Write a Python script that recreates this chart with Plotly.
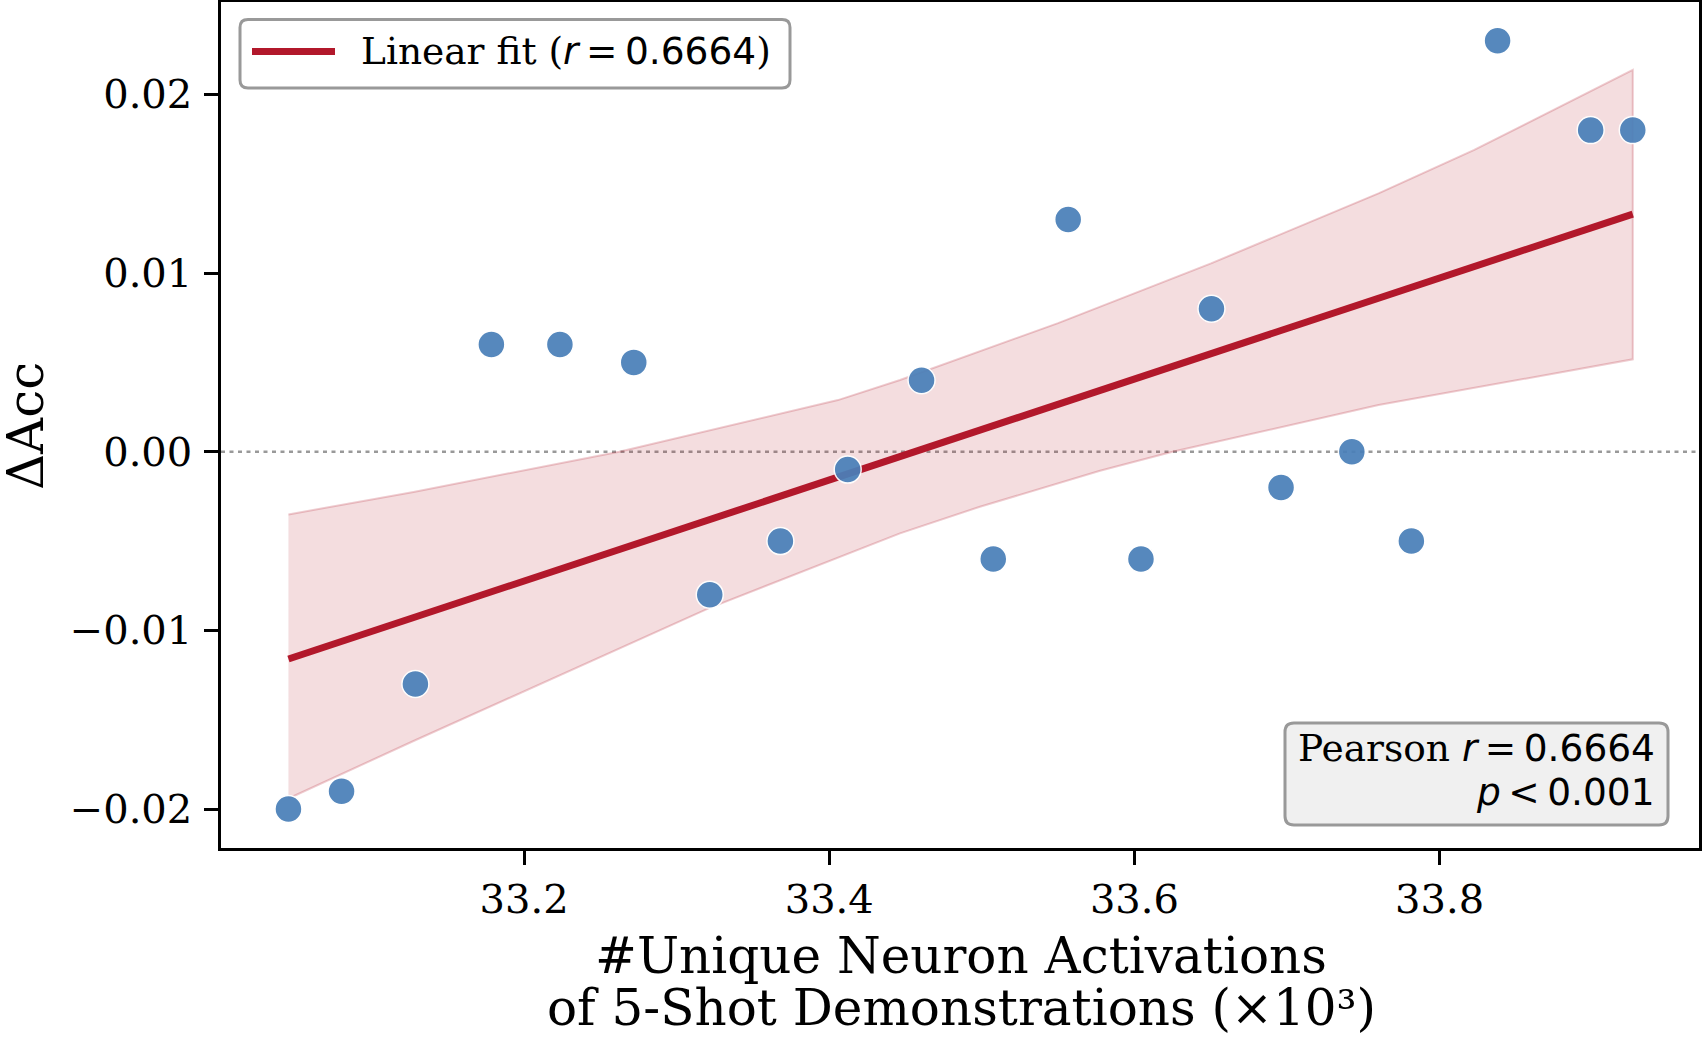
import plotly.graph_objects as go

# ---------------- data ----------------
x_vals = [33.0456, 33.0804, 33.1288, 33.1786, 33.2235, 33.2719, 33.3217, 33.3680,
          33.4121, 33.4605, 33.5075, 33.5566, 33.6043, 33.6505, 33.6961, 33.7425,
          33.7815, 33.8380, 33.8990, 33.9266]
y_vals = [-0.020, -0.019, -0.013, 0.006, 0.006, 0.005, -0.008, -0.005,
          -0.001, 0.004, -0.006, 0.013, -0.006, 0.008, -0.002, 0.000,
          -0.005, 0.023, 0.018, 0.018]

fit_x = [33.0456, 33.9266]
fit_y = [-0.0116, 0.0133]

ci_upper_x = [33.0456, 33.1276, 33.2623, 33.4057, 33.4464, 33.5500, 33.6502, 33.7600, 33.8227, 33.9266]
ci_upper_y = [-0.00351, -0.00225, 0.00000, 0.00289, 0.00401, 0.00720, 0.01054, 0.01446, 0.01689, 0.02137]
ci_lower_x = [33.0456, 33.1276, 33.3209, 33.4464, 33.4988, 33.5775, 33.6250, 33.7600, 33.9266]
ci_lower_y = [-0.01941, -0.01619, -0.00877, -0.00457, -0.00308, -0.00107, 0.00000, 0.00261, 0.00517]

x_ticks = [33.2, 33.4, 33.6, 33.8]
x_tick_labels = ["33.2", "33.4", "33.6", "33.8"]
y_ticks = [-0.02, -0.01, 0.0, 0.01, 0.02]
y_tick_labels = ["\u22120.02", "\u22120.01", "0.00", "0.01", "0.02"]

pearson_r = "0.6664"
p_value_text = "0.001"

x_title_lines = ["#Unique Neuron Activations", "of 5-Shot Demonstrations (\u00d710\u00b3)"]
y_title = "\u0394Acc"

# ---------------- styling ----------------
SERIF = "DejaVu Serif"
SANS = "DejaVu Sans"
RED = "#b2182b"
BLUE = "#4a80b9"
TS = "\u2009"  # thin space (mathtext-like spacing around "=")

W, H = 1702, 1037
ML, MR, MT, MB = 221, 3, 2, 189
PX0, PX1, PY0, PY1 = ML, W - MR, MT, H - MB


def pxx(X):
    return (X - PX0) / (PX1 - PX0)


def pxy(Y):
    return (PY1 - Y) / (PY1 - PY0)


def rounded_rect(x0, y0, x1, y1, r):
    pts = [
        ("M", [(x0 + r, y0)]),
        ("L", [(x1 - r, y0)]),
        ("Q", [(x1, y0), (x1, y0 + r)]),
        ("L", [(x1, y1 - r)]),
        ("Q", [(x1, y1), (x1 - r, y1)]),
        ("L", [(x0 + r, y1)]),
        ("Q", [(x0, y1), (x0, y1 - r)]),
        ("L", [(x0, y0 + r)]),
        ("Q", [(x0, y0), (x0 + r, y0)]),
    ]
    s = ""
    for cmd, ps in pts:
        s += cmd + " " + " ".join(f"{pxx(a):.5f},{pxy(b):.5f}" for a, b in ps) + " "
    return s + "Z"


fig = go.Figure()

# confidence band
fig.add_trace(go.Scatter(
    x=ci_upper_x + ci_lower_x[::-1],
    y=ci_upper_y + ci_lower_y[::-1],
    fill="toself",
    fillcolor="rgba(178,24,43,0.15)",
    line=dict(color="rgba(178,24,43,0.22)", width=2),
    mode="lines", hoverinfo="skip", showlegend=False,
))

# fit line
fig.add_trace(go.Scatter(
    x=fit_x, y=fit_y, mode="lines",
    line=dict(color=RED, width=7),
    name="Linear fit", showlegend=False,
))

# points
fig.add_trace(go.Scatter(
    x=x_vals, y=y_vals, mode="markers",
    marker=dict(size=27, color=BLUE, opacity=0.93,
                line=dict(color="white", width=1.5)),
    showlegend=False,
))

# zero reference line
fig.add_hline(y=0, line=dict(color="#999999", width=2.5, dash="4px,4.5px"), layer="below")

axis_common = dict(
    showgrid=False, zeroline=False,
    showline=True, linecolor="black", linewidth=2.5, mirror=True,
    ticks="outside", ticklen=14, tickwidth=2.5, tickcolor="black",
    tickfont=dict(family=SERIF, size=40, color="black"),
)

fig.update_layout(
    width=W, height=H,
    margin=dict(l=ML, r=MR, t=MT, b=MB, autoexpand=False),
    plot_bgcolor="white", paper_bgcolor="white",
    showlegend=False,
    xaxis=dict(
        range=[33.0014, 33.970],
        tickvals=x_ticks, ticktext=x_tick_labels,
        ticklabelstandoff=0,
        **axis_common,
    ),
    yaxis=dict(
        range=[-0.02218, 0.02517],
        tickvals=y_ticks, ticktext=y_tick_labels,
        ticklabelstandoff=4,
        **axis_common,
    ),
)

# axis titles (placed as annotations for exact line spacing)
fig.add_annotation(
    xref="paper", yref="paper", x=pxx(961.5), y=pxy(956), xanchor="center", yanchor="middle",
    text=x_title_lines[0], showarrow=False, font=dict(family=SERIF, size=50, color="black"),
)
fig.add_annotation(
    xref="paper", yref="paper", x=pxx(961.5), y=pxy(1008), xanchor="center", yanchor="middle",
    text=x_title_lines[1], showarrow=False, font=dict(family=SERIF, size=50, color="black"),
)
fig.add_annotation(
    xref="paper", yref="paper", x=pxx(26), y=pxy(426), xanchor="center", yanchor="middle",
    text=y_title, textangle=-90, showarrow=False,
    font=dict(family=SERIF, size=50, color="black"),
)

# manual legend (rounded box, line swatch, label)
fig.add_shape(type="path", xref="paper", yref="paper",
              path=rounded_rect(240, 19.5, 790, 88, 8),
              fillcolor="white", line=dict(color="#999999", width=3), layer="above")
fig.add_shape(type="line", xref="paper", yref="paper",
              x0=pxx(252), x1=pxx(335), y0=pxy(51.5), y1=pxy(51.5),
              line=dict(color=RED, width=7), layer="above")
fig.add_annotation(
    xref="paper", yref="paper", x=pxx(359), y=pxy(51), xanchor="left", yanchor="middle",
    text=f"Linear fit (<span style='font-family:{SANS}'><i>r</i>{TS}={TS}{pearson_r}</span>)",
    showarrow=False, font=dict(family=SERIF, size=37.5, color="black"),
)

# stats box
fig.add_shape(type="path", xref="paper", yref="paper",
              path=rounded_rect(1285, 723, 1668, 825, 9),
              fillcolor="#f0f0f0", line=dict(color="#999999", width=3), layer="above")
fig.add_annotation(
    xref="paper", yref="paper", x=pxx(1657), y=pxy(748), xanchor="right", yanchor="middle",
    text=f"Pearson <span style='font-family:{SANS}'><i>r</i>{TS}={TS}{pearson_r}</span>",
    showarrow=False, font=dict(family=SERIF, size=37.5, color="black"),
)
fig.add_annotation(
    xref="paper", yref="paper", x=pxx(1657), y=pxy(792), xanchor="right", yanchor="middle",
    text=f"<i>p</i>{TS}&lt;{TS}{p_value_text}",
    showarrow=False, font=dict(family=SANS, size=37.5, color="black"),
)

fig.write_html("out.html")
